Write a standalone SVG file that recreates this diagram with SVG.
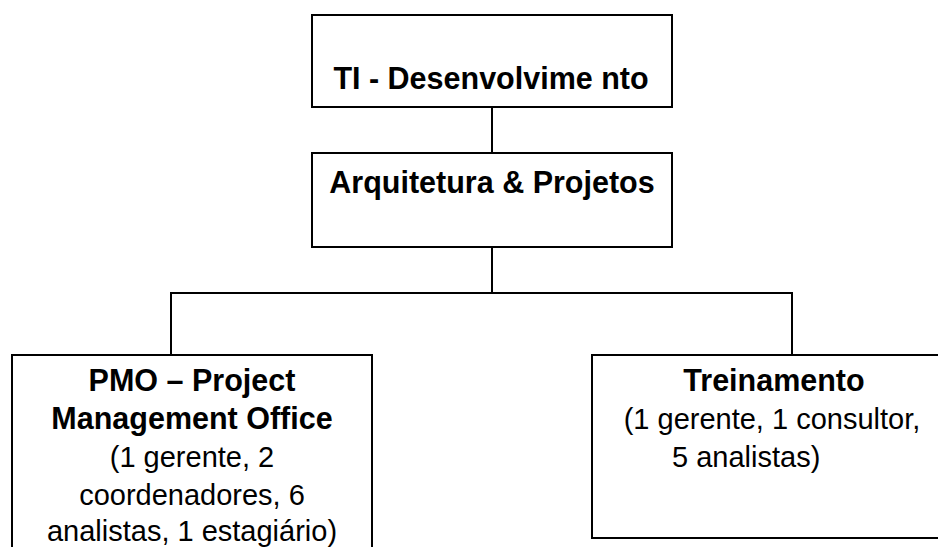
<svg xmlns="http://www.w3.org/2000/svg" width="938" height="547" viewBox="0 0 938 547">
  <style>
    .box { fill: #ffffff; stroke: #000000; stroke-width: 2; }
    .link { fill: none; stroke: #000000; stroke-width: 2; }
    text { font-family: "Liberation Sans", Arial, sans-serif; font-size: 29px; fill: #000000; }
    .title { font-weight: bold; font-size: 30.5px; }
    .mid { text-anchor: middle; }
  </style>
  <rect width="938" height="547" fill="#ffffff"/>

  <!-- connectors -->
  <g id="connectors">
    <path class="link" d="M492,107 V153"/>
    <path class="link" d="M492,247 V293"/>
    <path class="link" d="M171,355 V293 H792 V355"/>
  </g>

  <g id="ti-desenvolvimento">
    <rect class="box" x="312" y="15" width="360" height="92"/>
    <text class="title mid" x="491" y="89">TI - Desenvolvime nto</text>
  </g>

  <g id="arquitetura-projetos">
    <rect class="box" x="312" y="153" width="360" height="94"/>
    <text class="title mid" x="492" y="193">Arquitetura &amp; Projetos</text>
  </g>

  <g id="pmo">
    <rect class="box" x="12" y="355" width="360" height="220"/>
    <text class="title mid" x="192" y="391">PMO – Project</text>
    <text class="title mid" x="192" y="429">Management Office</text>
    <text class="mid" x="192" y="467">(1 gerente, 2</text>
    <text class="mid" x="192" y="505">coordenadores, 6</text>
    <text class="mid" x="192" y="541">analistas, 1 estagiário)</text>
  </g>

  <g id="treinamento">
    <rect class="box" x="592" y="355" width="360" height="183"/>
    <text class="title mid" x="774" y="391">Treinamento</text>
    <text class="mid" x="772" y="429">(1 gerente, 1 consultor,</text>
    <text x="672" y="467">5 analistas)</text>
  </g>
</svg>
